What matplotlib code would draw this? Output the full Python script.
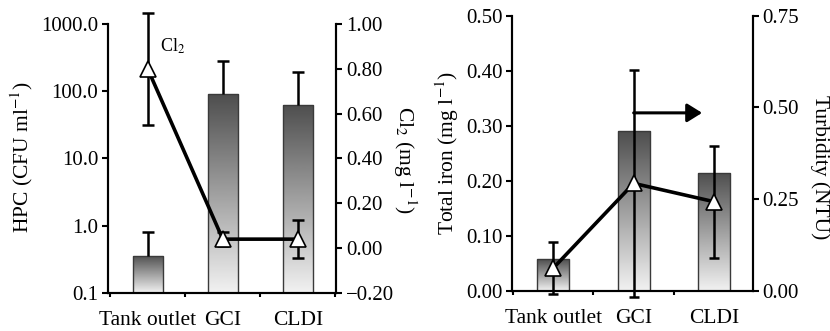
import numpy as np
import matplotlib
matplotlib.use('Agg')
import matplotlib.pyplot as plt
from matplotlib.colors import LinearSegmentedColormap
from matplotlib.image import AxesImage
from matplotlib.ticker import FixedLocator, FixedFormatter, NullLocator

plt.rcParams['font.family'] = ['Liberation Serif', 'DejaVu Serif']
plt.rcParams['mathtext.fontset'] = 'stix'

# ---------------- data ----------------
categories = ['Tank outlet', 'GCI', 'CLDI']
hpc = [0.36, 91.0, 63.0]                 # CFU/ml (bars, log scale)
hpc_upper = [0.80, 279.0, 195.0]         # upper whisker end
cl2 = [0.80, 0.04, 0.04]                 # mg/l (line)
cl2_err = [0.25, 0.03, 0.085]
iron = [0.058, 0.29, 0.215]              # mg/l (bars)
turb = [0.062, 0.293, 0.243]             # NTU (line)
turb_err = [0.071, 0.31, 0.153]

hpc_ticks = [0.1, 1, 10, 100, 1000]
hpc_ticklabels = ['0.1', '1.0', '10.0', '100.0', '1000.0']
cl2_ticks = [-0.2, 0.0, 0.2, 0.4, 0.6, 0.8, 1.0]
iron_ticks = [0.0, 0.1, 0.2, 0.3, 0.4, 0.5]
turb_ticks = [0.0, 0.25, 0.5, 0.75]

FS = 15
cmap = LinearSegmentedColormap.from_list('g', ['#f2f2f2', '#4e4e4e'])


def fmt(v, nd):
    s = f'{v:.{nd}f}'
    return s.replace('-', '\u2212')


def gradient_bars(ax, bars):
    grad = np.linspace(0, 1, 256).reshape(-1, 1)
    tr = ax.transData + ax.transAxes.inverted()
    for b in bars:
        x0, y0 = b.get_x(), b.get_y()
        x1, y1 = x0 + b.get_width(), y0 + b.get_height()
        if y0 <= 0 and ax.get_yscale() == 'log':
            y0 = ax.get_ylim()[0]
        (fx0, fy0), (fx1, fy1) = tr.transform([[x0, y0], [x1, y1]])
        fy0 = max(fy0, 0.0)
        im = AxesImage(ax, cmap=cmap, origin='lower', interpolation='bilinear',
                       extent=[fx0, fx1, fy0, fy1], transform=ax.transAxes)
        im.set_data(grad)
        im.set_zorder(b.get_zorder() - 0.05)
        im.set_clip_path(b)
        ax.add_image(im)
        b.set_facecolor('none')


def style_axes(ax, ax2, xlim):
    x = np.arange(len(categories))
    for a in (ax, ax2):
        a.spines['top'].set_visible(False)
        for s in a.spines.values():
            s.set_linewidth(1.5)
    ax.set_xlim(*xlim)
    ax.xaxis.set_major_locator(FixedLocator([-0.5, 0.5, 1.5, 2.5]))
    ax.xaxis.set_major_formatter(FixedFormatter(['', '', '', '']))
    ax.xaxis.set_minor_locator(FixedLocator(list(x)))
    ax.xaxis.set_minor_formatter(FixedFormatter(categories))
    ax.tick_params(axis='x', which='major', direction='out', length=3, width=1.5)
    ax.tick_params(axis='x', which='minor', length=0, pad=13, labelsize=FS + 0.5)
    ax.tick_params(axis='y', which='major', direction='out', length=4, width=1.5,
                   pad=3, labelsize=FS)
    ax.tick_params(axis='y', which='minor', length=0)
    ax2.tick_params(axis='y', which='major', direction='out', length=4, width=1.5,
                    pad=3, labelsize=FS)
    ax2.tick_params(axis='y', which='minor', length=0)


def noclip(container):
    for child in container.get_children():
        try:
            child.set_clip_on(False)
        except Exception:
            pass


fig = plt.figure(figsize=(8.30, 3.31), dpi=100)
x = np.arange(len(categories))

# ---------------- left panel ----------------
axL = fig.add_axes([0.130, 0.115, 0.275, 0.8125])
axL.set_yscale('log')
axL.set_ylim(0.1, 1000)
barsL = axL.bar(x, hpc, width=0.4, edgecolor='#3a3a3a', linewidth=1.0, zorder=2)
hpc_up = [u - v for u, v in zip(hpc_upper, hpc)]
eb = axL.errorbar(x, hpc, yerr=[[0, 0, 0], hpc_up], fmt='none', ecolor='black',
                  elinewidth=1.8, capsize=4, capthick=1.8, zorder=3)
eb[1][0].set_visible(False)   # upper whisker only
axL.yaxis.set_major_locator(FixedLocator(hpc_ticks))
axL.yaxis.set_major_formatter(FixedFormatter(hpc_ticklabels))
axL.yaxis.set_minor_locator(NullLocator())

axL2 = axL.twinx()
axL2.set_ylim(-0.2, 1.0)
axL2.set_yticks(cl2_ticks)
axL2.set_yticklabels([fmt(v, 2) for v in cl2_ticks])
eb2 = axL2.errorbar(x, cl2, yerr=cl2_err, fmt='none', ecolor='black',
                    elinewidth=1.8, capsize=4, capthick=1.8, zorder=3)
noclip(eb2)
axL2.plot(x, cl2, color='black', lw=2.6, marker='^', ms=12, mfc='white',
          mec='black', mew=1.2, zorder=4, clip_on=False)
axL2.text(0.16, 0.90, 'Cl$_2$', fontsize=13, ha='left', va='center')
style_axes(axL, axL2, (-0.53, 2.51))
gradient_bars(axL, barsL)

axL.text(-0.377, 0.506, 'HPC (CFU ml$^{-1}$)', transform=axL.transAxes,
         rotation=90, ha='center', va='center', fontsize=FS + 0.5)
axL.text(1.30, 0.494, 'Cl$_2$ (mg l$^{-1}$)', transform=axL.transAxes,
         rotation=270, ha='center', va='center', fontsize=FS + 0.5)

# ---------------- right panel ----------------
axR = fig.add_axes([0.617, 0.121, 0.290, 0.832])
axR.set_ylim(0, 0.5)
barsR = axR.bar(x, iron, width=0.4, edgecolor='#3a3a3a', linewidth=1.0, zorder=2)
axR.set_yticks(iron_ticks)
axR.set_yticklabels([fmt(v, 2) for v in iron_ticks])

axR2 = axR.twinx()
axR2.set_ylim(0, 0.75)
axR2.set_yticks(turb_ticks)
axR2.set_yticklabels([fmt(v, 2) for v in turb_ticks])
eb3 = axR2.errorbar(x, turb, yerr=turb_err, fmt='none', ecolor='black',
                    elinewidth=1.8, capsize=3.5, capthick=1.8, zorder=3)
noclip(eb3)
axR2.plot(x, turb, color='black', lw=2.6, marker='^', ms=12, mfc='white',
          mec='black', mew=1.2, zorder=4, clip_on=False)
axR2.annotate('', xy=(1.85, 0.485), xytext=(1.0, 0.485),
              arrowprops=dict(arrowstyle='-|>,head_length=0.45,head_width=0.28',
                              lw=2.2, color='black', mutation_scale=20,
                              shrinkA=0, shrinkB=0))
style_axes(axR, axR2, (-0.51, 2.48))
gradient_bars(axR, barsR)

axR.text(-0.27, 0.50, 'Total iron (mg l$^{-1}$)', transform=axR.transAxes,
         rotation=90, ha='center', va='center', fontsize=FS + 0.5)
axR.text(1.278, 0.45, 'Turbidity (NTU)', transform=axR.transAxes,
         rotation=270, ha='center', va='center', fontsize=FS + 0.5)

fig.savefig('out.png', dpi=100)
